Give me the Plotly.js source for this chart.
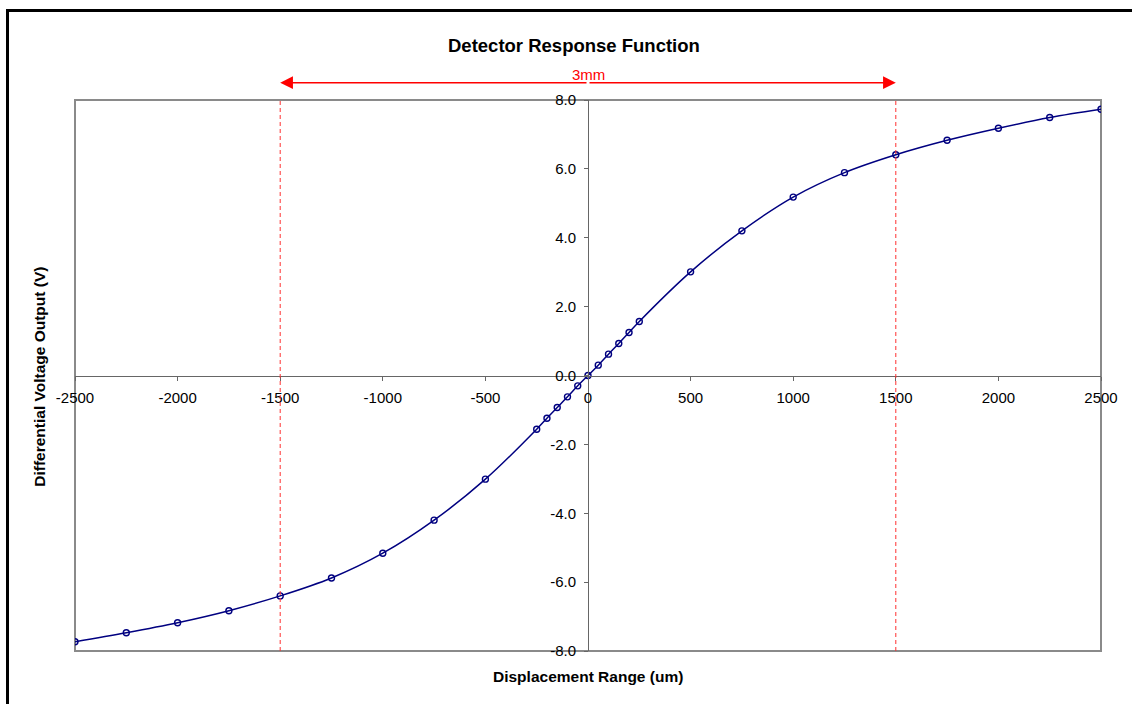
<!DOCTYPE html>
<html>
<head>
<meta charset="utf-8">
<script src="https://cdn.plot.ly/plotly-3.0.1.min.js"></script>
<style>
  html, body { margin: 0; padding: 0; background: #fff; overflow: hidden; }
  #wrap { position: relative; width: 1132px; height: 704px; overflow: hidden; }
  #chart { position: absolute; left: 0; top: 0; width: 1132px; height: 704px; }
  #frame { position: absolute; left: 6px; top: 9px; width: 1200px; height: 760px;
           border-left: 3px solid #000; border-top: 3px solid #000; pointer-events: none; }
</style>
</head>
<body>
<div id="wrap">
  <div id="chart"></div>
  <div id="frame"></div>
</div>
<script>
// ---- data ----
const displacement = [-2500, -2250, -2000, -1750, -1500, -1250, -1000, -750, -500, -250, -200, -150, -100, -50, 0,
                      50, 100, 150, 200, 250, 500, 750, 1000, 1250, 1500, 1750, 2000, 2250, 2500];
const voltage = [-7.73, -7.47, -7.18, -6.83, -6.40, -5.88, -5.16, -4.20, -3.01, -1.56, -1.24, -0.93, -0.62, -0.30, 0.00,
                 0.30, 0.62, 0.93, 1.25, 1.57, 3.01, 4.20, 5.18, 5.89, 6.41, 6.83, 7.18, 7.49, 7.73];
const xTicks = [-2500, -2000, -1500, -1000, -500, 0, 500, 1000, 1500, 2000, 2500];
const yTicks = [-8, -6, -4, -2, 0, 2, 4, 6, 8];
const rangeMarkers = [-1500, 1500];
const rangeLabel = "3mm";
const chartTitle = "Detector Response Function";
const xTitle = "Displacement Range (um)";
const yTitle = "Differential Voltage Output (V)";

const FONT = "Liberation Sans, Arial, sans-serif";
const ARROW_Y = 1.0314;

const trace = {
  x: displacement,
  y: voltage,
  type: "scatter",
  mode: "lines+markers",
  line: { color: "#000080", width: 1.5, shape: "spline", smoothing: 1 },
  marker: { symbol: "circle-open", size: 6, color: "#000080", line: { width: 1.4, color: "#000080" } },
  hoverinfo: "x+y"
};

const shapes = [
  // plot-area border
  { type: "rect", xref: "paper", yref: "paper", x0: 0, x1: 1, y0: 0, y1: 1,
    line: { color: "#8a8a8a", width: 2 }, layer: "below" }
];
rangeMarkers.forEach(v => shapes.push({
  type: "line", xref: "x", yref: "paper", x0: v, x1: v, y0: 0, y1: 1,
  line: { color: "#ff3030", width: 1, dash: "4px,3px" }
}));

const annotations = [
  { text: "<b>" + xTitle + "</b>", xref: "paper", yref: "paper", x: 0.5, y: -0.047,
    showarrow: false, xanchor: "center", yanchor: "middle", font: { family: FONT, size: 15.5, color: "#000" } },
  { text: "<b>" + yTitle + "</b>", xref: "paper", yref: "paper", x: -0.0345, y: 0.497, textangle: -90,
    showarrow: false, xanchor: "center", yanchor: "middle", font: { family: FONT, size: 15.5, color: "#000" } },
  { text: rangeLabel, xref: "x", yref: "paper", x: 0, y: 1.046,
    showarrow: false, xanchor: "center", yanchor: "middle", font: { family: FONT, size: 15, color: "#ff0000" } }
];
// double-headed arrow between the range markers
rangeMarkers.forEach(v => annotations.push({
  text: "", xref: "x", yref: "paper", x: v, y: ARROW_Y,
  axref: "x", ayref: "paper", ax: 0, ay: ARROW_Y,
  showarrow: true, arrowhead: 2, arrowsize: 1.7, arrowwidth: 1.5, arrowcolor: "#ff0000", standoff: 0
}));

const layout = {
  width: 1132, height: 704,
  paper_bgcolor: "#fff", plot_bgcolor: "#fff",
  margin: { l: 75, r: 31, t: 100, b: 53 },
  showlegend: false,
  title: { text: "<b>" + chartTitle + "</b>", xref: "container", yref: "container",
           x: 0.507, y: 0.936, xanchor: "center", yanchor: "middle",
           font: { family: FONT, size: 18.5, color: "#000" } },
  xaxis: {
    range: [-2500, 2500], anchor: "free", position: 0.5,
    tickmode: "array", tickvals: xTicks, ticktext: xTicks.map(String),
    ticks: "outside", ticklen: 4, tickcolor: "#666", tickwidth: 1,
    ticklabelstandoff: 4,
    showline: true, linecolor: "#666", linewidth: 1,
    showgrid: false, zeroline: false,
    tickfont: { family: FONT, size: 15, color: "#000" }
  },
  yaxis: {
    range: [-8, 8], anchor: "free", position: 0.5,
    tickmode: "array", tickvals: yTicks, ticktext: yTicks.map(v => v.toFixed(1)),
    ticks: "outside", ticklen: 4, tickcolor: "#666", tickwidth: 1,
    ticklabelstandoff: 5,
    showline: true, linecolor: "#666", linewidth: 1,
    showgrid: false, zeroline: false,
    tickfont: { family: FONT, size: 15, color: "#000" }
  },
  shapes: shapes,
  annotations: annotations
};

Plotly.newPlot("chart", [trace], layout, { displayModeBar: false, staticPlot: true });
</script>
</body>
</html>
